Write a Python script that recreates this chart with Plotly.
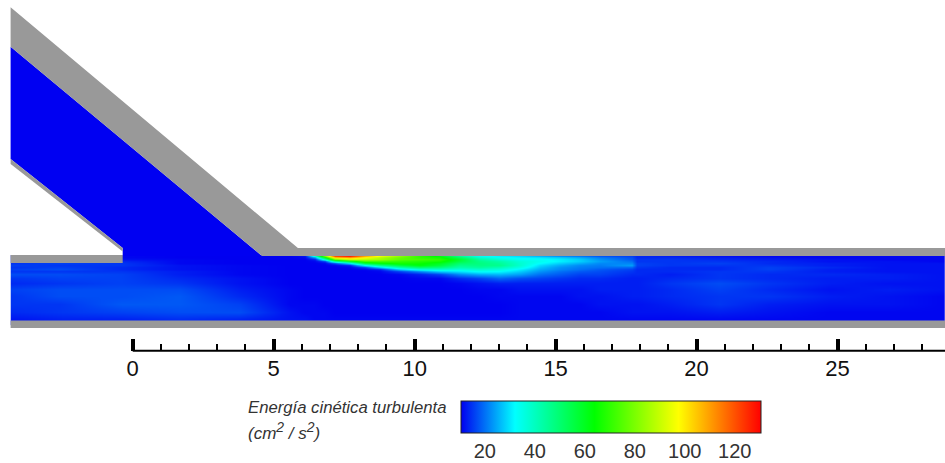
import plotly.graph_objects as go

# ---- physical layout (distance units of the scale bar) ----
x_range = [-4.706, 28.81]
y_range = [-5.053, 11.365]

# ---- turbulent kinetic energy field ----
field_y_top_down = [2.29, 2.235, 2.18, 2.11, 2.04, 1.97, 1.90, 1.83, 1.755, 1.65, 1.51, 1.33, 1.12, 0.87, 0.585, 0.30, 0.0]
field_x = [-4.31, -4.28, -2.58, -0.38, 1.68, 3.8, 5.58, 6.11, 6.47, 6.82, 7.17, 7.71, 8.24, 8.77, 9.48, 10.19,
           10.9, 11.6, 12.31, 13.02, 13.73, 14.44, 15.15, 15.86, 16.57, 17.71, 17.88, 19.05, 20.83, 22.6, 24.73, 26.86, 28.81]
field_columns = [
    [12, 13, 14, 14, 15, 16, 15, 16, 15, 17, 15, 14, 16, 15, 15, 14, 12],
    [12, 13, 14, 14, 15, 16, 15, 16, 15, 17, 15, 14, 16, 15, 15, 14, 12],
    [12, 13, 14, 15, 16, 15, 16, 17, 15, 17, 16, 15, 17, 17, 15, 15, 13],
    [11, 11, 12, 14, 15, 15, 14, 14, 15, 16, 16, 16, 17, 17, 18, 16, 13],
    [10.5, 10.5, 11, 11, 11, 12, 12, 12, 13, 13, 14, 15, 17, 18, 18, 17, 14],
    [10.5, 10.5, 10.5, 10.5, 10.5, 11, 11, 11, 11, 11, 12, 12, 13, 14, 16, 17, 13],
    [10.5, 10.5, 10.5, 10.5, 10.5, 10.5, 10.5, 10.5, 10.5, 10.5, 10.5, 10.5, 11, 11, 11, 12, 12],
    [12, 11, 10.5, 10.5, 10.5, 10.5, 10.5, 10.5, 10.5, 10.5, 10.5, 10.5, 10.5, 10.5, 11, 11, 12],
    [36, 24, 13, 11, 10.5, 10.5, 10.5, 10.5, 10.5, 10.5, 10.5, 10.5, 10.5, 10.5, 11, 11, 11],
    [78, 62, 38, 15, 11, 10.5, 10.5, 10.5, 10.5, 10.5, 10.5, 10.5, 10.5, 10.5, 10.5, 11, 11],
    [120, 104, 78, 42, 16, 11, 10.5, 10.5, 10.5, 10.5, 10.5, 10.5, 10.5, 10.5, 10.5, 10.5, 11],
    [126, 110, 90, 58, 30, 13, 11, 10.5, 10.5, 10.5, 10.5, 10.5, 10.5, 10.5, 10.5, 10.5, 11],
    [108, 98, 88, 72, 55, 32, 15, 11, 10.5, 10.5, 10.5, 10.5, 10.5, 10.5, 10.5, 10.5, 11],
    [95, 88, 85, 72, 62, 45, 28, 13, 11, 10.5, 10.5, 10.5, 10.5, 10.5, 10.5, 10.5, 11],
    [82, 78, 76, 70, 66, 55, 42, 28, 16, 11, 10.5, 10.5, 10.5, 10.5, 10.5, 10.5, 11],
    [70, 70, 73, 68, 65, 62, 50, 36, 22, 13, 11, 10.5, 10.5, 10.5, 10.5, 10.5, 11],
    [62, 66, 70, 66, 60, 56, 48, 38, 28, 16, 11, 10.5, 10.5, 10.5, 10.5, 10.5, 11],
    [46, 52, 58, 55, 50, 46, 42, 36, 30, 22, 14, 11, 10.5, 10.5, 10.5, 10.5, 11],
    [34, 38, 44, 47, 48, 47, 44, 38, 33, 25, 16, 12, 11, 10.5, 10.5, 10.5, 11],
    [31, 33, 38, 43, 45, 46, 41, 36, 32, 26, 19, 13, 11, 11, 10.5, 10.5, 11],
    [29, 31, 34, 37, 38, 38, 35, 31, 28, 24, 17, 13, 12, 11, 11, 11, 11],
    [26, 30, 33, 34, 32, 29, 27, 25, 23, 20, 16, 13, 12, 11, 11, 11, 11],
    [23, 28, 31, 31, 28, 25, 23, 22, 20, 18, 15, 13, 12, 11, 11, 11, 11],
    [21, 25, 28, 28, 25, 22, 21, 20, 18, 16, 14, 13, 12, 12, 11, 11, 11],
    [18, 21, 23, 24, 22, 21, 20, 18, 17, 16, 14, 13, 13, 12, 12, 11, 11],
    [16, 17, 18, 20, 22, 24, 19, 16, 15, 14, 13, 13, 13, 13, 12, 12, 11],
    [14, 14, 15, 15, 16, 16, 15, 14, 14, 14, 13, 13, 13, 13, 12, 12, 11],
    [13, 14, 15, 15, 15, 15, 14, 14, 14, 13, 14, 15, 14, 14, 13, 12, 11],
    [12, 13, 14, 15, 16, 15, 14, 14, 15, 15, 15, 17, 16, 15, 15, 13, 11],
    [11, 12, 13, 14, 14, 15, 16, 16, 15, 14, 14, 15, 14, 15, 13, 12, 11],
    [11, 11, 12, 12, 13, 13, 14, 13, 13, 14, 13, 13, 12, 13, 12, 11, 11],
    [11, 11, 11, 12, 12, 12, 12, 12, 12, 13, 13, 12, 13, 12, 12, 11, 11],
    [11, 11, 11, 11, 12, 12, 12, 12, 12, 12, 12, 12, 12, 11, 11, 11, 11],
]

# ---- colour scale ----
z_min, z_max = 10.5, 130.5
color_stops = [[0, "#0000f0"], [0.18, "#00ffff"], [0.445, "#00ff00"], [0.725, "#ffff00"], [1, "#ff0000"]]
cbar_ticks = [20, 40, 60, 80, 100, 120]

# ---- channel geometry outlines ----
upper_wall_x = [-4.33, 5.86, 28.81, 28.81, 4.585, -4.33]
upper_wall_y = [11.11, 2.57, 2.57, 2.29, 2.29, 9.71]
inflow_x = [-4.33, 4.585, -0.355, -0.355, -4.33]
inflow_y = [9.71, 2.29, 2.29, 2.57, 5.73]
lower_diag_x = [-4.33, -0.355, -0.355, -4.33]
lower_diag_y = [5.73, 2.57, 2.45, 5.55]
left_wall_x = [-4.33, -0.355, -0.355, -4.33]
left_wall_y = [2.32, 2.32, 2.04, 2.04]
floor_x = [-4.33, 28.81, 28.81, -4.33]
floor_y = [0, 0, -0.27, -0.27]

# ---- scale bar ----
scale_line_x = [0, 28.81]
scale_line_y = [-1.07, -1.07]
scale_ticks = [0, 5, 10, 15, 20, 25]
scale_minor = [1, 2, 3, 4, 6, 7, 8, 9, 11, 12, 13, 14, 16, 17, 18, 19, 21, 22, 23, 24, 26, 27, 28]

z = [[col[r] for col in field_columns] for r in range(len(field_y_top_down))][::-1]
y = field_y_top_down[::-1]

GRAY = "#999999"
TEXT = "#333333"
FONT = "Liberation Sans"

fig = go.Figure()
fig.add_trace(go.Heatmap(
    x=field_x, y=y, z=z, zmin=z_min, zmax=z_max, zsmooth="best",
    colorscale=color_stops, hoverinfo="skip",
    colorbar=dict(
        orientation="h", x=461 / 945, xanchor="left", y=62 / 463, yanchor="top",
        len=300, lenmode="pixels", thickness=32, thicknessmode="pixels",
        xpad=0, ypad=0, outlinecolor="#222222", outlinewidth=1, borderwidth=0,
        tickvals=cbar_ticks, ticks="", ticklabelposition="outside bottom",
        tickfont=dict(family=FONT, size=20, color=TEXT),
    ),
))


def poly(xs, ys, color):
    fig.add_trace(go.Scatter(x=xs, y=ys, mode="lines", fill="toself", fillcolor=color,
                             line=dict(width=0), hoverinfo="skip", showlegend=False))


poly(inflow_x, inflow_y, "#0000f2")
poly(upper_wall_x, upper_wall_y, GRAY)
poly(lower_diag_x, lower_diag_y, GRAY)
poly(left_wall_x, left_wall_y, GRAY)
poly(floor_x, floor_y, GRAY)

fig.add_trace(go.Scatter(x=scale_line_x, y=scale_line_y, mode="lines", line=dict(color="black", width=2),
                         hoverinfo="skip", showlegend=False))

fig.update_layout(
    width=945, height=463, paper_bgcolor="white", plot_bgcolor="white", showlegend=False,
    margin=dict(l=0, r=0, t=0, b=0, autoexpand=False),
    xaxis=dict(
        range=x_range, domain=[0, 1], anchor="free", position=112 / 463,
        showline=False, showgrid=False, zeroline=False,
        tickmode="array", tickvals=scale_ticks, ticks="inside", ticklen=12, tickwidth=4, tickcolor="black",
        minor=dict(tickmode="array", tickvals=scale_minor, ticks="inside", ticklen=7, tickwidth=1.5,
                   tickcolor="black", showgrid=False),
        tickfont=dict(family=FONT, size=22, color="#111111"), ticklabelstandoff=2,
    ),
    yaxis=dict(range=y_range, visible=False, domain=[0, 1]),
    annotations=[
        dict(text="<i>Energía cinética turbulenta</i>", xref="paper", yref="paper", x=246 / 945, y=(463 - 407) / 463,
             xanchor="left", yanchor="middle", showarrow=False, font=dict(family=FONT, size=16.7, color=TEXT)),
        dict(text="<i>(cm<sup><span style='font-size:14px'>2</span></sup> / s<sup><span style='font-size:14px'>2</span></sup>)</i>",
             xref="paper", yref="paper", x=246 / 945, y=(463 - 431) / 463,
             xanchor="left", yanchor="middle", showarrow=False, font=dict(family=FONT, size=17, color=TEXT)),
    ],
)
fig.write_html("out.html", config={"displayModeBar": False},
               post_script="document.body.style.margin='0';document.documentElement.style.overflow='hidden';")
